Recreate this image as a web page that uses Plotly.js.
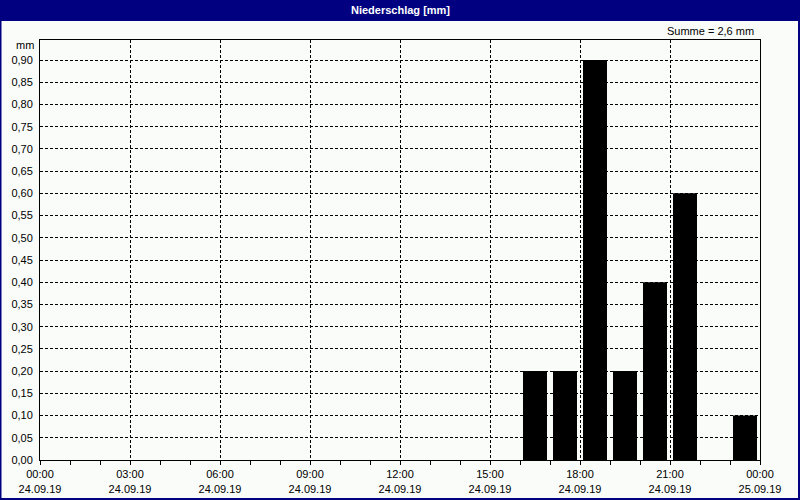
<!DOCTYPE html>
<html>
<head>
<meta charset="utf-8">
<script src="https://cdn.plot.ly/plotly-3.0.1.min.js"></script>
<style>
html,body{margin:0;padding:0;background:#fff;}
#chart{width:800px;height:500px;}
</style>
</head>
<body>
<div id="chart"></div>
<script>
// Data
var times = ['2019-09-24 16:30','2019-09-24 17:30','2019-09-24 18:30','2019-09-24 19:30','2019-09-24 20:30','2019-09-24 21:30','2019-09-24 23:30'];
var precip = [0.2, 0.2, 0.9, 0.2, 0.4, 0.6, 0.1];
var xTickVals = ['2019-09-24 00:00','2019-09-24 03:00','2019-09-24 06:00','2019-09-24 09:00','2019-09-24 12:00','2019-09-24 15:00','2019-09-24 18:00','2019-09-24 21:00','2019-09-25 00:00'];
var xTickText = ['00:00<br>24.09.19','03:00<br>24.09.19','06:00<br>24.09.19','09:00<br>24.09.19','12:00<br>24.09.19','15:00<br>24.09.19','18:00<br>24.09.19','21:00<br>24.09.19','00:00<br>25.09.19'];
var yTickVals = [0,0.05,0.1,0.15,0.2,0.25,0.3,0.35,0.4,0.45,0.5,0.55,0.6,0.65,0.7,0.75,0.8,0.85,0.9];
var chartTitle = 'Niederschlag [mm]';
var sumText = 'Summe = 2,6 mm';

var W = 800, H = 500, L = 40, R = 40, T = 40, B = 40;
var pw = W - L - R, ph = H - T - B;
function px(x){ return (x - L) / pw; }
function py(y){ return (H - B - y) / ph; }

var font = '"Liberation Sans", Arial, sans-serif';
var bg = '#fafcfa';

var trace = {
  type: 'bar',
  x: times,
  y: precip,
  width: 0.8 * 3600000,
  marker: {color: '#000000', line: {width: 0}},
  hoverinfo: 'skip'
};

var layout = {
  width: W, height: H,
  margin: {l: L, r: R, t: T, b: B, pad: 0},
  paper_bgcolor: bg,
  plot_bgcolor: bg,
  separators: ',.',
  showlegend: false,
  font: {family: font, size: 11, color: '#000'},
  xaxis: {
    type: 'date',
    range: ['2019-09-24 00:00', '2019-09-25 00:00'],
    tickvals: xTickVals,
    ticktext: xTickText,
    ticks: 'outside', ticklen: 4, tickcolor: '#000', tickwidth: 1,
    showgrid: true, gridcolor: '#000', gridwidth: 1, griddash: '3px,2px',
    minor: {dtick: 3600000, tick0: '2019-09-24 00:00', ticks: 'outside', ticklen: 4, tickcolor: '#000', showgrid: false},
    showline: true, linecolor: '#000', linewidth: 1, mirror: true,
    zeroline: false, fixedrange: true,
    tickfont: {family: font, size: 11, color: '#000'}
  },
  yaxis: {
    range: [0, 0.945],
    tickvals: yTickVals,
    tickformat: '.2f',
    ticks: '',
    showgrid: true, gridcolor: '#000', gridwidth: 1, griddash: '3px,2px',
    showline: true, linecolor: '#000', linewidth: 1, mirror: true,
    zeroline: false, fixedrange: true,
    ticklabelstandoff: 4,
    tickfont: {family: font, size: 11, color: '#000'}
  },
  shapes: [
    {type: 'rect', xref: 'paper', yref: 'paper', x0: px(0), x1: px(800), y0: py(21), y1: py(0), fillcolor: '#000080', line: {width: 0}, layer: 'above'},
    {type: 'rect', xref: 'paper', yref: 'paper', x0: px(0.5), x1: px(799), y0: py(499), y1: py(0.5), fillcolor: 'rgba(0,0,0,0)', line: {color: '#000080', width: 2}, layer: 'above'}
  ],
  annotations: [
    {text: '<b>' + chartTitle + '</b>', xref: 'paper', yref: 'paper', x: px(400), y: py(10), xanchor: 'center', yanchor: 'middle', showarrow: false, font: {family: font, size: 11, color: '#fff'}},
    {text: sumText, xref: 'paper', yref: 'paper', x: px(756), y: py(31), xanchor: 'right', yanchor: 'middle', showarrow: false, font: {family: font, size: 11, color: '#000'}},
    {text: 'mm', xref: 'paper', yref: 'paper', x: px(36), y: py(45), xanchor: 'right', yanchor: 'middle', showarrow: false, font: {family: font, size: 11, color: '#000'}}
  ]
};

Plotly.newPlot('chart', [trace], layout, {displayModeBar: false, staticPlot: true});
</script>
</body>
</html>
